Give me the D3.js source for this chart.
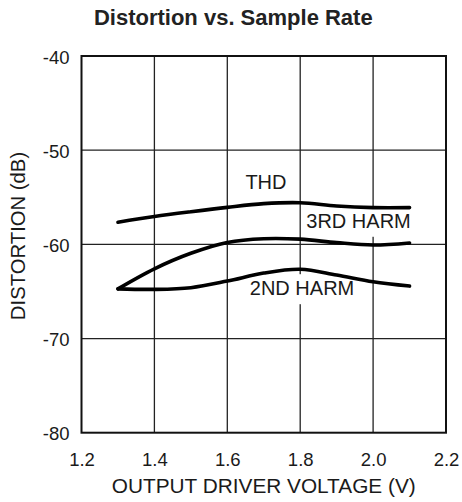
<!DOCTYPE html>
<html>
<head>
<meta charset="utf-8">
<script src="https://cdn.jsdelivr.net/npm/d3@7"></script>
<style>
  body { margin: 0; background: #fff; }
  svg { display: block; font-family: Arial, "Liberation Sans", Helvetica, sans-serif; }
  .grid line { stroke: #222; stroke-width: 1.3; }
</style>
</head>
<body>
<div id="drawing_region"></div>
<script>
// data
var voltage = [1.3, 1.4, 1.5, 1.6, 1.7, 1.8, 1.9, 2.0, 2.1];
var thd     = [-57.65, -57.05, -56.54, -56.07, -55.68, -55.58, -55.93, -56.1, -56.1];
var harm3   = [-64.73, -62.6, -60.95, -59.8, -59.4, -59.45, -59.82, -60.07, -59.85];
var harm2   = [-64.73, -64.78, -64.6, -63.9, -63.05, -62.65, -63.26, -63.97, -64.43];
var xTicks  = [1.2, 1.4, 1.6, 1.8, 2.0, 2.2];
var yTicks  = [-80, -70, -60, -50, -40];
var labels  = [
    { text: "THD",      x: 1.706, y: -54.13 },
    { text: "3RD HARM", x: 1.96,  y: -58.24 },
    { text: "2ND HARM", x: 1.805, y: -65.4 }
];

var width = 462;
var height = 502;
var margin = { top: 56, right: 16, bottom: 69.3, left: 81.5 };
var inner_w = width - margin.left - margin.right;
var inner_h = height - margin.top - margin.bottom;

var svg = d3.select("#drawing_region")
    .append("svg")
    .attr("width", width)
    .attr("height", height);

var g = svg.append("g")
    .attr("transform", "translate(" + margin.left + "," + margin.top + ")");

var xScale = d3.scaleLinear().domain([1.2, 2.2]).range([0, inner_w]);
var yScale = d3.scaleLinear().domain([-80, -40]).range([inner_h, 0]);

// grid
var grid = g.append("g").attr("class", "grid");
grid.selectAll(".vx")
    .data(xTicks.slice(1, -1))
    .enter().append("line")
    .attr("x1", d => xScale(d)).attr("x2", d => xScale(d))
    .attr("y1", 0).attr("y2", inner_h);
grid.selectAll(".hy")
    .data(yTicks.slice(1, -1))
    .enter().append("line")
    .attr("x1", 0).attr("x2", inner_w)
    .attr("y1", d => yScale(d)).attr("y2", d => yScale(d));

// white boxes go under the curves, text on top
var boxG = g.append("g");
var curveG = g.append("g");
var textG = g.append("g");

var labelText = textG.selectAll("text")
    .data(labels)
    .enter().append("text")
    .attr("x", d => xScale(d.x))
    .attr("y", d => yScale(d.y))
    .attr("text-anchor", "middle")
    .attr("font-size", 20)
    .attr("fill", "#1a1a1a")
    .text(d => d.text);
labelText.each(function() {
    var b = this.getBBox();
    boxG.append("rect")
        .attr("x", b.x - 3).attr("y", b.y - 3)
        .attr("width", b.width + 6).attr("height", b.height + 8)
        .attr("fill", "#fff");
});

// frame
g.append("rect")
    .attr("width", inner_w).attr("height", inner_h)
    .attr("fill", "none").attr("stroke", "#111").attr("stroke-width", 2);

// curves
var line = d3.line()
    .x(d => xScale(d[0]))
    .y(d => yScale(d[1]))
    .curve(d3.curveCatmullRom.alpha(0.5));

[thd, harm3, harm2].forEach(function(series) {
    curveG.append("path")
        .datum(voltage.map((v, i) => [v, series[i]]))
        .attr("fill", "none")
        .attr("stroke", "#000")
        .attr("stroke-width", 3.6)
        .attr("stroke-linecap", "round")
        .attr("d", line);
});

// axes (labels only)
var xAxis = g.append("g")
    .attr("transform", "translate(0," + inner_h + ")")
    .call(d3.axisBottom(xScale).tickValues(xTicks).tickFormat(d => d.toFixed(1)).tickSize(0).tickPadding(12));
var yAxis = g.append("g")
    .call(d3.axisLeft(yScale).tickValues(yTicks).tickFormat(d => String(d)).tickSize(0).tickPadding(12));
[xAxis, yAxis].forEach(function(ax) {
    ax.select(".domain").remove();
    ax.selectAll("text")
        .attr("font-size", 18.5)
        .attr("font-family", "Arial, 'Liberation Sans', sans-serif")
        .attr("fill", "#1a1a1a");
});
xAxis.selectAll("text").attr("dy", "1.15em");
yAxis.selectAll("text").attr("dy", "0.38em");

// titles
svg.append("text")
    .attr("x", 233.3).attr("y", 25)
    .attr("text-anchor", "middle")
    .attr("font-size", 22)
    .attr("font-weight", "bold")
    .attr("fill", "#222")
    .text("Distortion vs. Sample Rate");

svg.append("text")
    .attr("x", margin.left + inner_w / 2).attr("y", 493.3)
    .attr("text-anchor", "middle")
    .attr("font-size", 20.8)
    .attr("fill", "#1a1a1a")
    .text("OUTPUT DRIVER VOLTAGE (V)");

svg.append("text")
    .attr("transform", "translate(25,236) rotate(-90)")
    .attr("text-anchor", "middle")
    .attr("font-size", 20.3)
    .attr("fill", "#1a1a1a")
    .text("DISTORTION (dB)");
</script>
</body>
</html>
